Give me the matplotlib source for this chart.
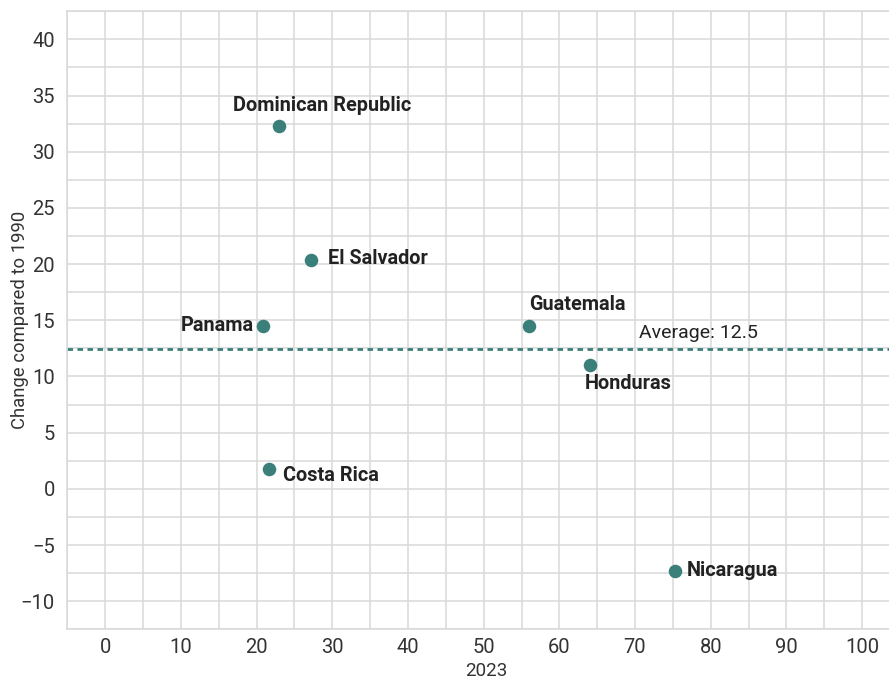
import matplotlib
matplotlib.use("Agg")
import matplotlib.pyplot as plt
import numpy as np

countries = ["Dominican Republic", "El Salvador", "Panama", "Guatemala",
             "Honduras", "Costa Rica", "Nicaragua"]
x_2023 = [23.0, 27.2, 20.8, 56.0, 64.1, 21.7, 75.3]
change_1990 = [32.3, 20.4, 14.5, 14.5, 11.0, 1.8, -7.3]
x_ticks = [0, 10, 20, 30, 40, 50, 60, 70, 80, 90, 100]
y_ticks = [-10, -5, 0, 5, 10, 15, 20, 25, 30, 35, 40]

# label offsets in pixels (dx, dy) and alignment
label_style = {
    "Dominican Republic": (43, 20, "center", "center"),
    "El Salvador": (17, 1, "left", "center"),
    "Panama": (-9, 0, "right", "center"),
    "Guatemala": (0, 21, "left", "center"),
    "Honduras": (-6, -18, "left", "center"),
    "Costa Rica": (14, -7, "left", "center"),
    "Nicaragua": (12, 0, "left", "center"),
}

plt.rcParams['font.family'] = ['Roboto', 'DejaVu Sans']
teal = "#3b7f7a"
grid_c = "#d9d9d9"
txt_c = "#333333"

fig = plt.figure(figsize=(8.89, 6.79), dpi=100)
ax = fig.add_axes([67.3/889, (679-629.3)/679, (905-67.3)/889, (629.3-11.3)/679])
ax.set_xlim(-5, 105.66)
ax.set_ylim(-12.5, 42.5)

ax.set_xticks(x_ticks)
ax.set_yticks(y_ticks)
ax.set_xticks(np.arange(-5, 106, 5), minor=True)
ax.set_yticks(np.arange(-12.5, 42.6, 2.5), minor=True)
ax.grid(True, which="both", color=grid_c, linewidth=1.1)
ax.set_axisbelow(True)
ax.tick_params(which="both", length=0)
ax.tick_params(axis="x", pad=6.5, labelsize=14.5, labelcolor=txt_c)
ax.tick_params(axis="y", pad=9, labelsize=14.5, labelcolor=txt_c)
for s in ax.spines.values():
    s.set_color(grid_c)
    s.set_linewidth(1.1)

avg = float(np.mean(change_1990))
ax.axhline(avg, color=teal, linestyle=(0, (2, 1.6)), linewidth=2, zorder=2)
ax.text(70.5, avg + 0.6, f"Average: {avg:.1f}", fontsize=14, color="#222222",
        ha="left", va="bottom")

ax.scatter(x_2023, change_1990, s=95, color=teal, zorder=3, linewidths=0)

for c, xv, yv in zip(countries, x_2023, change_1990):
    dx, dy, ha, va = label_style[c]
    ax.annotate(c, (xv, yv), xytext=(dx, dy), textcoords="offset pixels",
                ha=ha, va=va, fontsize=14.3, fontweight="bold", color="#222222")

ax.set_xlabel("2023", fontsize=13.5, color=txt_c)
ax.set_ylabel("Change compared to 1990", fontsize=13.3, color=txt_c)
ax.xaxis.set_label_coords((486 - 67.3) / 837.7, (629.3 - 671.5) / 618)
ax.yaxis.set_label_coords((20 - 67.3) / 837.7, 0.5)
ax.xaxis.label.set_va("center")
ax.yaxis.label.set_va("center")

fig.savefig("out.png", dpi=100)
